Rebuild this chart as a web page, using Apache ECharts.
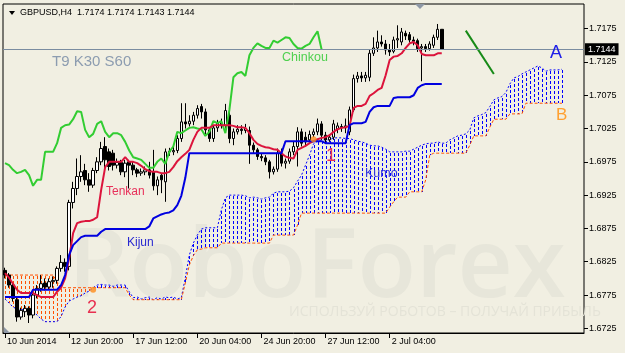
<!DOCTYPE html>
<html><head><meta charset="utf-8">
<script src="https://cdn.jsdelivr.net/npm/echarts@6/dist/echarts.min.js"></script>
<style>html,body{margin:0;padding:0;background:#F1EFE2;}#c{width:625px;height:353px;}</style>
</head><body><div id="c"></div><script>
// ---- data (H4 bars, index 0 = first visible bar) ----
const openP = [
1.6812,1.6805,1.6790,1.6768,1.6742,1.6750,1.6755,1.6745,1.6775,1.6785,
1.6793,1.6787,1.6795,1.6797,1.6815,1.6824,1.6818,1.6914,1.6935,1.6953,
1.6962,1.6948,1.6940,1.6962,1.6975,1.6998,1.6990,1.6988,1.6970,1.6974,
1.6960,1.6975,1.6970,1.6963,1.6958,1.6960,1.6963,1.6960,1.6939,1.6955,
1.6945,1.6990,1.6990,1.6992,1.7010,1.7035,1.7032,1.7036,1.7045,1.7058,
1.7050,1.7023,1.7010,1.7026,1.7033,1.7030,1.7045,1.7010,1.7020,1.7024,
1.7022,1.7022,1.7000,1.6993,1.6983,1.6981,1.6975,1.6960,1.6964,1.6988,
1.6973,1.6976,1.6990,1.6998,1.7020,1.7012,1.7008,1.7016,1.7020,1.7032,
1.7015,1.7008,1.7012,1.7024,1.7028,1.7026,1.7020,1.7053,1.7100,1.7104,
1.7101,1.7102,1.7138,1.7146,1.7155,1.7152,1.7143,1.7141,1.7158,1.7155,
1.7168,1.7166,1.7158,1.7157,1.7146,1.7148,1.7145,1.7150,1.7162,1.7174];
const closeP = [
1.6805,1.6790,1.6770,1.6742,1.6752,1.6755,1.6745,1.6775,1.6785,1.6792,
1.6787,1.6795,1.6797,1.6815,1.6824,1.6818,1.6914,1.6935,1.6953,1.6960,
1.6948,1.6940,1.6962,1.6975,1.6995,1.6978,1.6968,1.6970,1.6974,1.6960,
1.6973,1.6970,1.6963,1.6958,1.6960,1.6963,1.6955,1.6939,1.6948,1.6948,
1.6990,1.6991,1.6992,1.7010,1.7035,1.7032,1.7036,1.7045,1.7055,1.7050,
1.7023,1.7010,1.7026,1.7033,1.7031,1.7052,1.7010,1.7020,1.7024,1.7022,
1.7025,1.7000,1.6993,1.6983,1.6981,1.6975,1.6960,1.6964,1.6988,1.6973,
1.6976,1.6990,1.6998,1.7020,1.7003,1.7005,1.7016,1.7020,1.7032,1.7015,
1.7008,1.7012,1.7032,1.7029,1.7026,1.7029,1.7053,1.7100,1.7104,1.7101,
1.7105,1.7138,1.7146,1.7155,1.7152,1.7143,1.7140,1.7158,1.7160,1.7170,
1.7164,1.7158,1.7156,1.7145,1.7148,1.7145,1.7152,1.7162,1.7174,1.7144];
const highP = [
1.6816,1.6808,1.6793,1.6772,1.6756,1.6760,1.6758,1.6780,1.6790,1.6805,
1.6800,1.6800,1.6803,1.6818,1.6835,1.6830,1.6918,1.6945,1.6980,1.6985,
1.6972,1.6958,1.6966,1.6982,1.7005,1.7012,1.6995,1.6993,1.6980,1.6978,
1.6978,1.6978,1.6975,1.6966,1.6965,1.6968,1.6975,1.6993,1.6953,1.6958,
1.6995,1.6996,1.6998,1.7015,1.7063,1.7063,1.7045,1.7050,1.7060,1.7062,
1.7055,1.7026,1.7030,1.7038,1.7040,1.7062,1.7050,1.7025,1.7030,1.7030,
1.7032,1.7028,1.7004,1.6996,1.6988,1.6985,1.6978,1.6968,1.6995,1.6995,
1.6980,1.6995,1.7005,1.7027,1.7025,1.7020,1.7022,1.7025,1.7040,1.7036,
1.7020,1.7016,1.7038,1.7034,1.7032,1.7040,1.7058,1.7106,1.7110,1.7110,
1.7110,1.7143,1.7162,1.7172,1.7165,1.7158,1.7152,1.7163,1.7180,1.7176,
1.7172,1.7170,1.7163,1.7160,1.7152,1.7152,1.7156,1.7166,1.7182,1.7174];
const lowP = [
1.6800,1.6786,1.6765,1.6735,1.6738,1.6742,1.6733,1.6740,1.6770,1.6780,
1.6782,1.6784,1.6786,1.6792,1.6810,1.6810,1.6812,1.6905,1.6925,1.6945,
1.6940,1.6930,1.6936,1.6958,1.6970,1.6962,1.6962,1.6962,1.6965,1.6955,
1.6952,1.6935,1.6955,1.6952,1.6954,1.6955,1.6950,1.6932,1.6925,1.6928,
1.6915,1.6984,1.6985,1.6988,1.7005,1.7025,1.7028,1.7030,1.7040,1.7040,
1.7015,1.7005,1.7005,1.7020,1.7025,1.7025,1.7003,1.7000,1.7016,1.7016,
1.7018,1.6972,1.6988,1.6978,1.6976,1.6970,1.6950,1.6956,1.6960,1.6968,
1.6965,1.6972,1.6985,1.6968,1.6998,1.6998,1.7005,1.7012,1.7015,1.7008,
1.7003,1.7005,1.7008,1.7018,1.7020,1.7018,1.7015,1.7050,1.7094,1.7095,
1.7095,1.7096,1.7134,1.7140,1.7148,1.7136,1.7134,1.7138,1.7146,1.7150,
1.7158,1.7154,1.7150,1.7140,1.7096,1.7140,1.7142,1.7146,1.7158,1.7143];
const tenkan = [
1.6808,1.6801,1.6792,1.6783,1.6778,1.6778,1.6778,1.6778,1.6775,1.6772,
1.6772,1.6772,1.6772,1.6780,1.6786,1.6800,1.6830,1.6868,1.6883,1.6885,
1.6886,1.6886,1.6888,1.6892,1.6933,1.6967,1.6975,1.6975,1.6975,1.6975,
1.6982,1.6975,1.6975,1.6973,1.6969,1.6964,1.6961,1.6960,1.6960,1.6958,
1.6958,1.6960,1.6967,1.6976,1.6982,1.6987,1.6993,1.7008,1.7020,1.7026,
1.7026,1.7026,1.7030,1.7030,1.7030,1.7030,1.7030,1.7029,1.7027,1.7027,
1.7026,1.7018,1.7008,1.7002,1.6999,1.6997,1.6996,1.6994,1.6993,1.6988,
1.6983,1.6981,1.6980,1.6993,1.6996,1.6999,1.7003,1.7006,1.7009,1.7011,
1.7012,1.7015,1.7020,1.7024,1.7026,1.7027,1.7029,1.7056,1.7059,1.7059,
1.7062,1.7074,1.7078,1.7083,1.7086,1.7105,1.7128,1.7133,1.7134,1.7138,
1.7146,1.7153,1.7155,1.7150,1.7137,1.7135,1.7135,1.7135,1.7138,1.7138];
const kijun = [
1.6772,1.6772,1.6772,1.6772,1.6772,1.6772,1.6772,1.6783,1.6783,1.6783,
1.6783,1.6783,1.6783,1.6783,1.6790,1.6805,1.6835,1.6850,1.6856,1.6862,
1.6864,1.6864,1.6864,1.6864,1.6870,1.6874,1.6874,1.6874,1.6874,1.6874,
1.6874,1.6874,1.6874,1.6874,1.6874,1.6874,1.6878,1.6890,1.6893,1.6896,
1.6898,1.6899,1.6902,1.6910,1.6924,1.6951,1.6988,1.6988,1.6988,1.6988,
1.6988,1.6988,1.6988,1.6988,1.6988,1.6988,1.6988,1.6988,1.6988,1.6988,
1.6988,1.6988,1.6988,1.6988,1.6988,1.6988,1.6988,1.6988,1.6988,1.6988,
1.7006,1.7006,1.7006,1.7006,1.7006,1.7006,1.7006,1.7006,1.7006,1.7006,
1.7003,1.7003,1.7003,1.7003,1.7003,1.7003,1.7030,1.7033,1.7033,1.7033,
1.7035,1.7050,1.7057,1.7059,1.7059,1.7059,1.7059,1.7071,1.7072,1.7072,
1.7072,1.7072,1.7075,1.7086,1.7090,1.7092,1.7092,1.7092,1.7092,1.7092];
const chinkou = [
1.6973,1.6970,1.6963,1.6958,1.6960,1.6963,1.6955,1.6939,1.6948,1.6948,
1.6990,1.6990,1.6990,1.7003,1.7026,1.7030,1.7031,1.7039,1.7051,1.7050,
1.7023,1.7012,1.7017,1.7032,1.7036,1.7020,1.7012,1.7018,1.7018,1.7015,
1.7005,1.6992,1.6982,1.6980,1.6978,1.6972,1.6966,1.6966,1.6975,1.6980,
1.6972,1.6990,1.6998,1.7020,1.7018,1.7022,1.7026,1.7027,1.7025,1.7024,
1.7014,1.7020,1.7036,1.7033,1.7036,1.7018,1.7053,1.7102,1.7108,1.7110,
1.7104,1.7135,1.7146,1.7153,1.7149,1.7146,1.7146,1.7157,1.7154,1.7158,
1.7162,1.7161,1.7152,1.7146,1.7145,1.7149,1.7152,1.7162,1.7171,1.7144];
const senkouA = [
1.6769,1.6763,1.6757,1.6754,1.6753,1.6753,1.6753,1.6750,1.6745,1.6739,
1.6735,1.6735,1.6735,1.6735,1.6743,1.6757,1.6766,1.6769,1.6772,1.6774,
1.6778,1.6781,1.6786,1.6790,1.6791,1.6790,1.6790,1.6788,1.6790,1.6790,
1.6790,1.6780,1.6771,1.6772,1.6769,1.6771,1.6772,1.6768,1.6771,1.6769,
1.6772,1.6771,1.6772,1.6769,1.6771,1.6801,1.6835,1.6853,1.6865,1.6874,
1.6876,1.6876,1.6876,1.6876,1.6903,1.6921,1.6925,1.6925,1.6925,1.6925,
1.6924,1.6921,1.6922,1.6921,1.6919,1.6921,1.6922,1.6928,1.6930,1.6930,
1.6930,1.6931,1.6936,1.6946,1.6955,1.6970,1.6985,1.7002,1.7006,1.7008,
1.7008,1.7008,1.7011,1.7011,1.7011,1.7010,1.7010,1.7008,1.7006,1.7005,
1.7003,1.7000,1.6999,1.6999,1.6997,1.6994,1.6990,1.6990,1.6990,1.6990,
1.6991,1.6991,1.6994,1.6997,1.7000,1.7002,1.7003,1.7003,1.7005,1.7003,
1.7003,1.7008,1.7011,1.7014,1.7015,1.7017,1.7023,1.7041,1.7044,1.7046,
1.7049,1.7058,1.7068,1.7071,1.7073,1.7079,1.7092,1.7101,1.7103,1.7107,
1.7110,1.7113,1.7116,1.7119,1.7116,1.7111,1.7113,1.7113,1.7113,1.7114];
const senkouB = [
1.6805,1.6805,1.6805,1.6805,1.6805,1.6805,1.6805,1.6805,1.6805,1.6805,
1.6805,1.6805,1.6805,1.6795,1.6786,1.6786,1.6786,1.6786,1.6786,1.6786,
1.6786,1.6786,1.6786,1.6786,1.6786,1.6786,1.6786,1.6786,1.6786,1.6786,
1.6786,1.6775,1.6768,1.6768,1.6768,1.6768,1.6768,1.6768,1.6768,1.6768,
1.6768,1.6768,1.6768,1.6768,1.6768,1.6793,1.6820,1.6834,1.6843,1.6844,
1.6846,1.6846,1.6846,1.6846,1.6853,1.6853,1.6853,1.6853,1.6853,1.6853,
1.6853,1.6853,1.6853,1.6853,1.6853,1.6853,1.6853,1.6865,1.6865,1.6865,
1.6865,1.6865,1.6865,1.6880,1.6898,1.6898,1.6898,1.6898,1.6898,1.6898,
1.6898,1.6898,1.6898,1.6898,1.6898,1.6898,1.6898,1.6898,1.6898,1.6898,
1.6898,1.6898,1.6898,1.6898,1.6898,1.6898,1.6907,1.6915,1.6922,1.6922,
1.6922,1.6930,1.6930,1.6930,1.6930,1.6948,1.6985,1.6988,1.6988,1.6988,
1.6988,1.6988,1.6988,1.6988,1.6988,1.6988,1.7000,1.7014,1.7014,1.7014,
1.7014,1.7027,1.7039,1.7039,1.7039,1.7039,1.7047,1.7047,1.7047,1.7047,
1.7063,1.7063,1.7063,1.7063,1.7063,1.7063,1.7063,1.7063,1.7063,1.7063];
const slotCount = 145;
const tickIdx = [0,16,32,48,64,80,96];
const tickText = ['10 Jun 2014','12 Jun 20:00','17 Jun 12:00','20 Jun 04:00','24 Jun 20:00','27 Jun 12:00','2 Jul 04:00'];
const yTicks = [1.6725,1.6775,1.6825,1.6875,1.6925,1.6975,1.7025,1.7075,1.7125,1.7175];
const lastPrice = 1.7144;
const crossMarks = [[22,1.6783],[77,1.7009]];
const forecast = [[115,1.7172],[122,1.7107]];

// ---- build ----
const cats = Array.from({length: slotCount}, (_, i) => 'b' + i);
const ohlc = openP.map((o, i) => [o, closeP[i], lowP[i], highP[i]]);
const cloud = senkouA.map((a, k) => [k, a, senkouB[k]]);
const isTick = (i) => tickIdx.indexOf(i) >= 0;
const FONT = '"Liberation Sans", Arial, sans-serif';
const BLUE = 'rgb(0,0,255)', ORANGE = 'rgb(255,80,0)';

const chart = echarts.init(document.getElementById('c'), null, {renderer: 'canvas'});
chart.setOption({
  animation: false,
  backgroundColor: '#F1EFE2',
  grid: {left: 3, top: 4, width: 581, height: 329, show: true, borderColor: '#000', borderWidth: 1, backgroundColor: 'transparent'},
  xAxis: {
    type: 'category', data: cats, boundaryGap: true,
    axisLine: {show: true, lineStyle: {color: '#000', width: 1}},
    axisTick: {show: true, alignWithLabel: true, interval: (i) => isTick(i), length: 5, lineStyle: {color: '#000'}},
    axisLabel: {interval: (i) => isTick(i), formatter: (v, i) => { const k = tickIdx.indexOf(i); return k >= 0 ? tickText[k] : ''; },
      align: 'left', padding: [0, 0, 0, 2], margin: 4, color: '#000', fontSize: 9, fontFamily: FONT},
    splitLine: {show: false}
  },
  yAxis: {
    type: 'value', position: 'right', min: 1.6718, max: 1.7212, scale: true,
    axisLine: {show: false},
    axisTick: {show: true, customValues: yTicks, length: 4, lineStyle: {color: '#000'}},
    axisLabel: {customValues: yTicks, formatter: (v) => v.toFixed(4), color: '#000', fontSize: 9, fontFamily: FONT, margin: 5},
    splitLine: {show: false}
  },
  graphic: [
    {type: 'text', z: 0, x: 68, y: 222, style: {text: 'RoboForex', font: '600 96px "Open Sans", sans-serif', fill: '#E7E6DA'}},
    {type: 'text', z: 0, x: 289, y: 305, style: {text: 'ИСПОЛЬЗУЙ РОБОТОВ – ПОЛУЧАЙ ПРИБЫЛЬ', font: '14px "Open Sans", sans-serif', fill: '#E4E3D7'}},
    {type: 'polygon', z: 100, shape: {points: [[9,11],[15,11],[12,15]]}, style: {fill: '#000'}},
    {type: 'text', z: 100, x: 20, y: 13, style: {text: 'GBPUSD,H4  1.7174 1.7174 1.7143 1.7144', font: '9px ' + FONT, fill: '#000', textVerticalAlign: 'middle'}},
    {type: 'polygon', z: 100, shape: {points: [[415,4],[425,4],[420,9]]}, style: {fill: '#8E98A6'}},
    {type: 'polygon', z: 100, shape: {points: [[4,327],[4,333],[10,333]]}, style: {fill: '#8E98A6'}},
    {type: 'text', z: 100, x: 52, y: 62, style: {text: 'T9 K30 S60', font: '15px ' + FONT, fill: '#8C9CB0', textVerticalAlign: 'middle'}},
    {type: 'text', z: 100, x: 282, y: 58, style: {text: 'Chinkou', font: '12.5px ' + FONT, fill: '#4FD04F', textVerticalAlign: 'middle'}},
    {type: 'text', z: 100, x: 106, y: 192, style: {text: 'Tenkan', font: '12px ' + FONT, fill: '#E8305A', textVerticalAlign: 'middle'}},
    {type: 'text', z: 100, x: 127, y: 243, style: {text: 'Kijun', font: '12px ' + FONT, fill: '#2828D0', textVerticalAlign: 'middle'}},
    {type: 'text', z: 100, x: 365, y: 174, style: {text: 'Kumo', font: '12.5px ' + FONT, fill: '#3535E0', textVerticalAlign: 'middle'}},
    {type: 'text', z: 100, x: 550, y: 53, style: {text: 'A', font: '18px ' + FONT, fill: '#2020E8', textVerticalAlign: 'middle'}},
    {type: 'text', z: 100, x: 556, y: 115, style: {text: 'B', font: '17px ' + FONT, fill: '#FFA030', textVerticalAlign: 'middle'}},
    {type: 'text', z: 100, x: 326, y: 156, style: {text: '1', font: '18px ' + FONT, fill: '#E83050', textVerticalAlign: 'middle'}},
    {type: 'text', z: 100, x: 87, y: 308, style: {text: '2', font: '18px ' + FONT, fill: '#E83050', textVerticalAlign: 'middle'}}
  ],
  series: [
    {type: 'custom', name: 'Kumo', z: 1, data: cloud, encode: {x: 0, y: [1, 2]}, silent: true,
      renderItem: (params, api) => {
        const a = api.value(1), b = api.value(2);
        const pa = api.coord([api.value(0), a]), pb = api.coord([api.value(0), b]);
        const x = Math.round(pa[0]);
        const y1 = Math.round(Math.min(pa[1], pb[1])), y2 = Math.round(Math.max(pa[1], pb[1]));
        const color = a >= b ? BLUE : ORANGE;
        const children = [];
        for (let y = y1 + 1; y < y2; y += 5) {
          children.push({type: 'rect', shape: {x: x, y: y, width: 1, height: Math.min(3, y2 - y)}, style: {fill: color, stroke: null}});
        }
        return {type: 'group', children: children};
      }},
    {type: 'line', name: 'Senkou A', z: 1, data: senkouA, symbol: 'none', lineStyle: {color: BLUE, width: 1, type: [2, 2]},
      markLine: {silent: true, symbol: 'none', precision: 4, data: [{yAxis: lastPrice}],
        lineStyle: {color: '#7A8CA0', width: 1, type: 'solid'},
        label: {position: 'end', formatter: lastPrice.toFixed(4), color: '#fff', backgroundColor: '#000', fontSize: 9, fontFamily: FONT, padding: [2, 3, 1, 3], distance: 1}}},
    {type: 'line', name: 'Senkou B', z: 1, data: senkouB, symbol: 'none', lineStyle: {color: ORANGE, width: 1, type: [3, 2]}},
    {type: 'candlestick', name: 'GBPUSD', z: 3, data: ohlc, barWidth: 3,
      itemStyle: {color: '#FFFFFF', color0: '#000000', borderColor: '#000000', borderColor0: '#000000', borderWidth: 1}},
    {type: 'line', name: 'Chinkou', z: 4, data: chinkou, symbol: 'none', lineStyle: {color: '#32CD32', width: 2}},
    {type: 'line', name: 'Tenkan', z: 4, data: tenkan, symbol: 'none', lineStyle: {color: '#DC143C', width: 2}},
    {type: 'line', name: 'Kijun', z: 4, data: kijun, symbol: 'none', lineStyle: {color: '#0000E0', width: 2}},
    {type: 'line', name: 'Forecast', z: 4, data: forecast, symbol: 'none', lineStyle: {color: '#178A17', width: 2}},
    {type: 'scatter', name: 'Cross', z: 5, data: crossMarks, symbol: 'circle', symbolSize: 6, itemStyle: {color: '#FF8C1A'}}
  ]
});
</script></body></html>
